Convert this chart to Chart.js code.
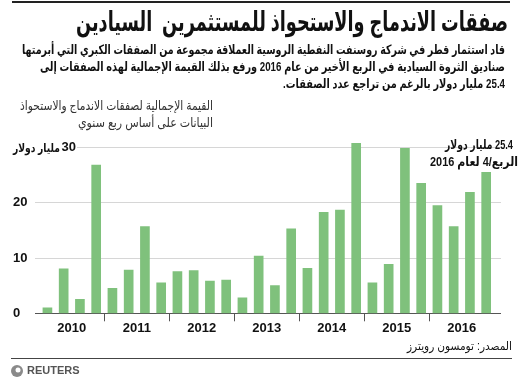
<!DOCTYPE html>
<html>
<head>
<meta charset="utf-8">
<script src="https://cdn.jsdelivr.net/npm/chart.js@4/dist/chart.umd.min.js"></script>
<style>
  html, body { margin: 0; padding: 0; background: #fff; }
  #wrap { width: 518px; height: 378px; position: relative; }
</style>
</head>
<body>
<div id="wrap"><canvas id="dealChart" width="518" height="378"></canvas></div>
<script>
// DATA - quarterly total value of sovereign M&A deals (bn $)
const quarters = [
  '2010 Q1', '2010 Q2', '2010 Q3', '2010 Q4',
  '2011 Q1', '2011 Q2', '2011 Q3', '2011 Q4',
  '2012 Q1', '2012 Q2', '2012 Q3', '2012 Q4',
  '2013 Q1', '2013 Q2', '2013 Q3', '2013 Q4',
  '2014 Q1', '2014 Q2', '2014 Q3', '2014 Q4',
  '2015 Q1', '2015 Q2', '2015 Q3', '2015 Q4',
  '2016 Q1', '2016 Q2', '2016 Q3', '2016 Q4'
];
const dealValues = [
  1.0, 8.0, 2.5, 26.7,
  4.5, 7.8, 15.6, 5.5,
  7.5, 7.7, 5.8, 6.0,
  2.8, 10.3, 5.0, 15.2,
  8.1, 18.2, 18.6, 30.6,
  5.5, 8.8, 29.7, 23.4,
  19.4, 15.6, 21.8, 25.4
];
const years = ['2010', '2011', '2012', '2013', '2014', '2015', '2016'];
const yTicks = [0, 10, 20, 30];

const title = 'صفقات الاندماج والاستحواذ للمستثمرين  السيادين';
const intro = [
  'قاد استثمار قطر في شركة روسنفت النفطية الروسية العملاقة مجموعة من الصفقات الكبري التي أبرمتها',
  'صناديق الثروة السيادية في الربع الأخير من عام 2016 ورفع بذلك القيمة الإجمالية لهذه الصفقات إلى',
  '25.4 مليار دولار بالرغم من تراجع عدد الصفقات.'
];
const chartTitle = ['القيمة الإجمالية لصفقات الاندماج والاستحواذ', 'البيانات على أساس ربع سنوي'];
const unitLabel = 'مليار دولار';
const note = ['25.4 مليار دولار', 'الربع/4 لعام 2016'];
const source = 'المصدر: تومسون رويترز';

const FONT = '"Liberation Sans", Arial, "DejaVu Sans", sans-serif';
Chart.defaults.font.family = FONT;

// draws RTL text right aligned, squeezed horizontally to a given width
function fitText(ctx, text, xRight, y, width, weight, size, color) {
  ctx.save();
  ctx.direction = 'rtl';
  ctx.textAlign = 'right';
  ctx.textBaseline = 'middle';
  ctx.fillStyle = color;
  ctx.font = weight + ' ' + size + 'px ' + FONT;
  let w = ctx.measureText(text).width;
  ctx.translate(xRight, y);
  ctx.scale(width / w, 1);
  ctx.fillText(text, 0, 0);
  ctx.restore();
}

// grid lines + y labels
const gridPlugin = {
  id: 'gridPlugin',
  beforeDatasetsDraw(chart) {
    const ctx = chart.ctx;
    const y = chart.scales.y;
    ctx.save();
    yTicks.forEach(function (t) {
      const py = Math.round(y.getPixelForValue(t)) + 0.5;
      ctx.beginPath();
      ctx.strokeStyle = t === 0 ? '#555' : '#d6d6d6';
      ctx.lineWidth = t === 0 ? 1.2 : 1;
      ctx.moveTo(t === 30 ? 77 : 35, py);
      ctx.lineTo(501, py);
      ctx.stroke();
      ctx.fillStyle = '#111';
      ctx.textBaseline = 'middle';
      ctx.font = 'bold 13px ' + FONT;
      if (t === 30) {
        ctx.textAlign = 'right';
        ctx.fillText('30', 76, py);
        fitText(ctx, unitLabel, 60, py + 1, 47, 'bold', 12, '#111');
      } else {
        ctx.textAlign = 'left';
        ctx.fillText(String(t), 13, py);
      }
    });
    ctx.restore();
  },
  afterDraw(chart) {
    const ctx = chart.ctx;
    ctx.save();
    // top and bottom rules
    ctx.fillStyle = '#222';
    ctx.fillRect(12, 1, 498, 2);
    ctx.fillStyle = '#444';
    ctx.fillRect(11, 358, 501, 1);
    ctx.restore();

    fitText(ctx, title, 508, 24, 432, 'bold', 27, '#111');
    fitText(ctx, intro[0], 505, 50, 483, 'bold', 13, '#111');
    fitText(ctx, intro[1], 505, 67, 465, 'bold', 13, '#111');
    fitText(ctx, intro[2], 505, 84, 222, 'bold', 13, '#111');

    fitText(ctx, chartTitle[0], 213, 106, 193, 'normal', 13, '#333');
    fitText(ctx, chartTitle[1], 213, 123, 135, 'normal', 13, '#333');

    fitText(ctx, note[0], 513, 145, 68, 'bold', 13, '#111');
    fitText(ctx, note[1], 518, 162, 88, 'bold', 13, '#111');

    fitText(ctx, source, 512, 347, 105, 'normal', 12, '#111');

    // Reuters mark
    ctx.save();
    ctx.beginPath();
    ctx.fillStyle = '#8a8a8a';
    ctx.arc(17, 371, 6, 0, Math.PI * 2);
    ctx.fill();
    ctx.beginPath();
    ctx.fillStyle = '#fff';
    ctx.arc(18, 370, 2.5, 0, Math.PI * 2);
    ctx.fill();
    ctx.fillStyle = '#555';
    ctx.font = 'bold 11px ' + FONT;
    ctx.textAlign = 'left';
    ctx.textBaseline = 'middle';
    ctx.fillText('REUTERS', 27, 371);
    ctx.restore();
  }
};

const ctx = document.getElementById('dealChart').getContext('2d');
const chart = new Chart(ctx, {
  type: 'bar',
  data: {
    labels: quarters,
    datasets: [{
      data: dealValues,
      backgroundColor: '#7fc17c',
      borderWidth: 0,
      barThickness: 9
    }]
  },
  options: {
    responsive: false,
    animation: false,
    events: [],
    layout: { padding: { left: 39.3, right: 23.7, top: 135.6, bottom: 34.7 } },
    plugins: { legend: { display: false }, tooltip: { enabled: false } },
    scales: {
      x: {
        offset: true,
        afterFit(scale) { scale.height = 30; },
        border: { display: false },
        grid: {
          offset: true,
          drawOnChartArea: false,
          tickLength: 8,
          color(c) { return (c.index > 0 && c.index < quarters.length && c.index % 4 === 0) ? '#555' : 'rgba(0,0,0,0)'; },
          tickColor(c) { return (c.index > 0 && c.index < quarters.length && c.index % 4 === 0) ? '#555' : 'rgba(0,0,0,0)'; }
        },
        ticks: {
          autoSkip: false,
          maxRotation: 0,
          labelOffset: 8.1,
          padding: -1,
          color: '#111',
          font: { size: 13, weight: 'bold' },
          callback(value, index) { return index % 4 === 1 ? years[Math.floor(index / 4)] : ''; }
        }
      },
      y: {
        display: false,
        min: 0,
        max: 32
      }
    }
  },
  plugins: [gridPlugin]
});
</script>
</body>
</html>
